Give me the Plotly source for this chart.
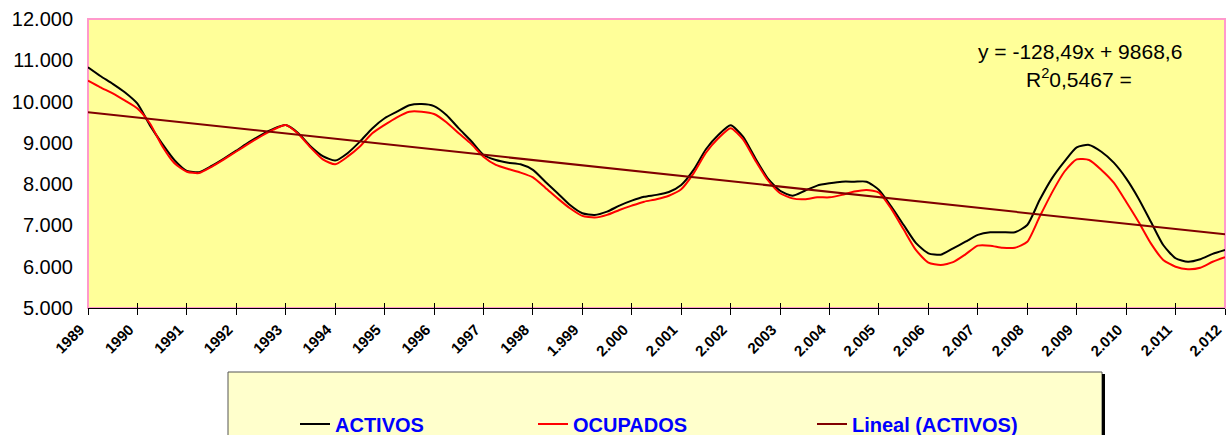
import numpy as np
import plotly.graph_objects as go

# Quarterly series, 1989-T1 .. 2012-T1 (thousands)
activos = [
    10830, 10620, 10430, 10220, 9950, 9430, 8980, 8580,
    8320, 8290, 8440, 8620, 8810, 9010, 9190, 9340,
    9430, 9240, 8920, 8680, 8570, 8750, 9030, 9350,
    9595, 9755, 9910, 9940, 9890, 9675, 9350, 9045,
    8705, 8585, 8520, 8480, 8345, 8060, 7780, 7495,
    7295, 7255, 7335, 7480, 7600, 7695, 7740, 7810,
    7980, 8345, 8845, 9190, 9425, 9150, 8625, 8140,
    7840, 7720, 7840, 7965, 8020, 8060, 8060, 8060,
    7860, 7455, 7010, 6570, 6325, 6290, 6445, 6605,
    6770, 6835, 6835, 6835, 7010, 7615, 8140, 8545,
    8890, 8950, 8785, 8520, 8140, 7655, 7090, 6525,
    6205, 6120, 6180, 6310, 6405,
]
ocupados = [
    10506, 10346, 10200, 10025, 9835, 9475, 8925, 8505,
    8300, 8270, 8420, 8600, 8790, 8980, 9160, 9320,
    9430, 9220, 8890, 8600, 8480, 8665, 8910, 9230,
    9435, 9620, 9755, 9755, 9700, 9500, 9230, 8975,
    8665, 8465, 8365, 8280, 8165, 7915, 7655, 7415,
    7230, 7190, 7255, 7375, 7480, 7575, 7635, 7720,
    7875, 8260, 8760, 9110, 9355, 9085, 8570, 8100,
    7780, 7655, 7635, 7680, 7680, 7740, 7820, 7860,
    7795, 7400, 6900, 6400, 6100, 6040, 6110, 6300,
    6510, 6510, 6460, 6460, 6605, 7210, 7795, 8300,
    8600, 8585, 8345, 8035, 7575, 7090, 6565, 6165,
    6000, 5940, 5975, 6120, 6230,
]

years = list(range(1989, 2013))
year_labels = ["1989", "1990", "1991", "1992", "1993", "1994", "1995", "1996",
               "1997", "1998", "1.999", "2.000", "2.001", "2.002", "2003", "2.004",
               "2.005", "2.006", "2.007", "2.008", "2.009", "2.010", "2.011", "2.012"]
y_ticks = [5000, 6000, 7000, 8000, 9000, 10000, 11000, 12000]
y_labels = ["5.000", "6.000", "7.000", "8.000", "9.000", "10.000", "11.000", "12.000"]

# Linear trend of ACTIVOS, x = year index (1989 -> 1)
slope, intercept, r2 = -128.49, 9868.6, 0.5467

x_q = years[0] + np.arange(len(activos)) / 4.0
trend_x = np.array([years[0], years[-1]], dtype=float)
trend_y = slope * (trend_x - years[0] + 1) + intercept

W, H = 1226, 435
ML, MR, MT, MB = 88, 1, 19, 127
PW, PH = W - ML - MR, H - MT - MB


def px_x(p):
    return (p - ML) / PW


def px_y(p):
    return (H - MB - p) / PH


FONT = "Liberation Sans, Arial"
legend_font = dict(family=FONT, size=20, color="#0000FF", weight="bold")

fig = go.Figure()
fig.add_trace(go.Scatter(x=x_q, y=activos, mode="lines", name="ACTIVOS",
                         line=dict(color="#000000", width=2, shape="spline", smoothing=0.6),
                         legend="legend"))
fig.add_trace(go.Scatter(x=x_q, y=ocupados, mode="lines", name="OCUPADOS",
                         line=dict(color="#FF0000", width=2, shape="spline", smoothing=0.6),
                         legend="legend2"))
fig.add_trace(go.Scatter(x=trend_x, y=trend_y, mode="lines", name="Lineal (ACTIVOS)",
                         line=dict(color="#800000", width=2), legend="legend3",
                         xaxis="x2"))

leg_common = dict(orientation="h", bgcolor="rgba(0,0,0,0)", borderwidth=0,
                  font=legend_font, xanchor="left", yanchor="middle", y=px_y(424))

fig.update_layout(
    width=W, height=H,
    margin=dict(l=ML, r=MR, t=MT, b=MB, autoexpand=False),
    paper_bgcolor="white",
    plot_bgcolor="#FFFF99",
    showlegend=True,
    legend=dict(x=px_x(295), **leg_common),
    legend2=dict(x=px_x(533), **leg_common),
    legend3=dict(x=px_x(812), **leg_common),
    xaxis=dict(
        range=[years[0], years[-1]], automargin=False,
        tickvals=years, ticktext=year_labels, tickangle=-45,
        ticks="outside", ticklen=6, tickcolor="#000000", tickwidth=1,
        ticklabeloverflow="allow", ticklabelshift=-8,
        tickfont=dict(family=FONT, size=15, color="#000000", weight="bold"),
        showline=True, linecolor="#000000", linewidth=1,
        showgrid=False, zeroline=False,
    ),
    xaxis2=dict(
        range=[years[0], years[-1]], overlaying="x", anchor="y", automargin=False,
        tickvals=years, ticks="inside", ticklen=5, tickcolor="#000000",
        showticklabels=False, showline=False, showgrid=False, zeroline=False,
    ),
    yaxis=dict(
        range=[5000, 12000], tickvals=y_ticks, ticktext=y_labels, automargin=False,
        ticks="", ticklabelstandoff=14,
        tickfont=dict(family=FONT, size=20, color="#000000"),
        showline=False, showgrid=False, zeroline=False,
    ),
    shapes=[
        # plot frame
        dict(type="rect", xref="paper", yref="paper", x0=0, x1=1, y0=0, y1=1,
             line=dict(color="#FF99CC", width=2), layer="below"),
        # legend panel
        dict(type="rect", xref="paper", yref="paper",
             x0=px_x(228), x1=px_x(1102), y0=px_y(372), y1=px_y(450),
             fillcolor="#FFFFCC", line=dict(color="#555555", width=1), layer="below"),
        dict(type="rect", xref="paper", yref="paper",
             x0=px_x(1102), x1=px_x(1105), y0=px_y(374), y1=px_y(450),
             fillcolor="#000000", line=dict(width=0), layer="below"),
    ],
    annotations=[
        dict(text=f"y = {slope:.2f}x + {intercept:.1f}".replace(".", ","),
             xref="paper", yref="paper", x=px_x(1079.5), y=px_y(51),
             xanchor="center", yanchor="middle", showarrow=False,
             font=dict(family=FONT, size=21, color="#000000")),
        dict(text=f"R<sup>2</sup>{r2:.4f} =".replace(".", ","),
             xref="paper", yref="paper", x=px_x(1078.5), y=px_y(77.5),
             xanchor="center", yanchor="middle", showarrow=False,
             font=dict(family=FONT, size=21, color="#000000")),
    ],
)

fig.write_html("out.html")
